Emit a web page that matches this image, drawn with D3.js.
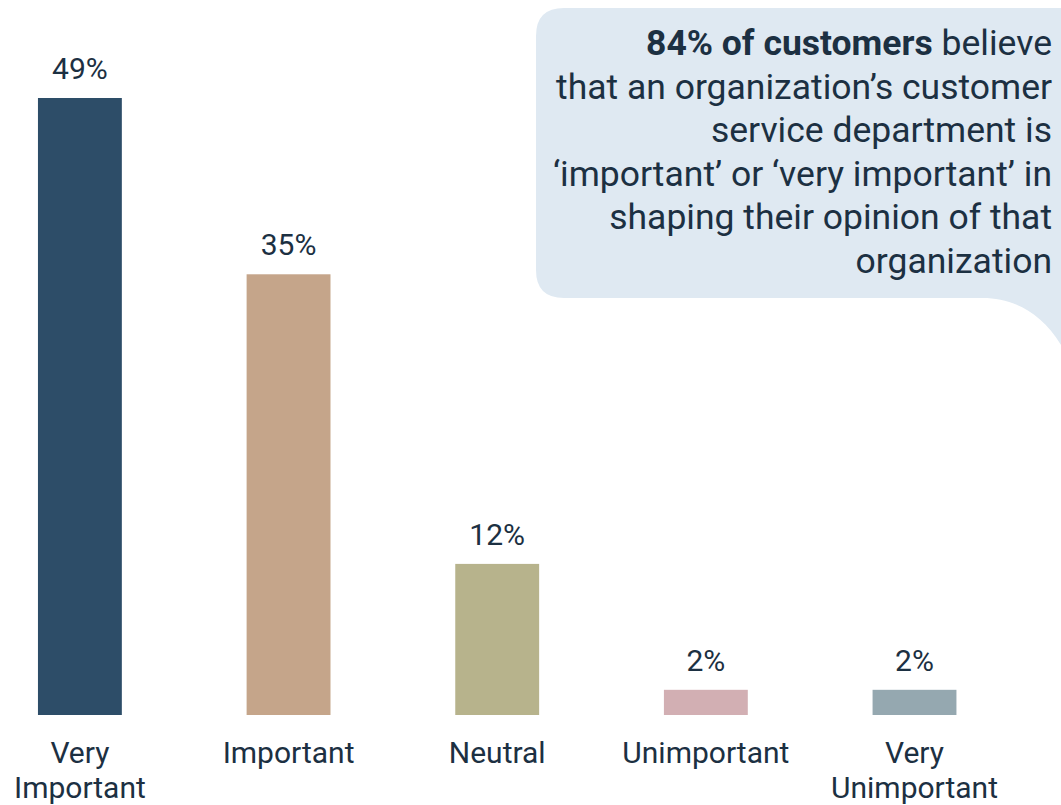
<!DOCTYPE html>
<html>
<head>
<meta charset="utf-8">
<script src="https://cdn.jsdelivr.net/npm/d3@7"></script>
<style>
  html, body { margin: 0; padding: 0; background: #fff; }
  svg { display: block; }
  text { font-family: Roboto, "Noto Sans", sans-serif; fill: #1C3042; }
</style>
</head>
<body>
<svg id="chart" width="1061" height="805"></svg>
<script>
const categories = ["Very Important", "Important", "Neutral", "Unimportant", "Very Unimportant"];
const values = [49, 35, 12, 2, 2];
const valueLabels = ["49%", "35%", "12%", "2%", "2%"];
const colors = ["#2D4D68", "#C5A58A", "#B7B38C", "#D2AFB3", "#95A8B0"];
const calloutBold = "84% of customers";
const calloutLines = [
  " believe",
  "that an organization\u2019s customer",
  "service department is",
  "\u2018important\u2019 or \u2018very important\u2019 in",
  "shaping their opinion of that",
  "organization"
];

const svg = d3.select("#chart");
const W = 1061, H = 805;

// Callout bubble
const bx = 536, by = 8, br = 28, bb = 298, tailStart = 983;
const bubble = d3.path();
bubble.moveTo(bx + br, by);
bubble.lineTo(W, by);
bubble.lineTo(W, 345);
bubble.bezierCurveTo(1040, 310, 1010, bb, tailStart, bb);
bubble.lineTo(bx + br, bb);
bubble.quadraticCurveTo(bx, bb, bx, bb - br);
bubble.lineTo(bx, by + br);
bubble.quadraticCurveTo(bx, by, bx + br, by);
bubble.closePath();
svg.append("path").attr("d", bubble.toString()).attr("fill", "#DFE9F2");

const fs = 35.5;
calloutLines.forEach((line, i) => {
  const t = svg.append("text")
    .attr("text-anchor", "end")
    .attr("font-size", fs)
    .attr("x", 1052).attr("y", 55 + i * 43.6);
  if (i === 0) {
    t.append("tspan").attr("font-weight", "bold").text(calloutBold);
    t.append("tspan").text(line);
  } else {
    t.text(line);
  }
});

// Bars
const x = d3.scaleBand()
  .domain(categories)
  .range([0.4, 994])
  .paddingInner(0.598)
  .paddingOuter(0.18);

const y = d3.scaleLinear()
  .domain([0, d3.max(values)])
  .range([715, 98]);

const data = categories.map((c, i) => ({ c, v: values[i], label: valueLabels[i], color: colors[i] }));

svg.selectAll("rect.bar").data(data).join("rect")
  .attr("class", "bar")
  .attr("x", d => x(d.c))
  .attr("y", d => y(d.v))
  .attr("width", x.bandwidth())
  .attr("height", d => y(0) - y(d.v))
  .attr("fill", d => d.color);

svg.selectAll("text.val").data(data).join("text")
  .attr("class", "val")
  .attr("x", d => x(d.c) + x.bandwidth() / 2)
  .attr("y", d => y(d.v) - 19)
  .attr("text-anchor", "middle")
  .attr("font-size", 30)
  .text(d => d.label);

// Category axis labels (wrapped)
const xAxis = d3.axisBottom(x).tickSize(0).tickPadding(0);
const gx = svg.append("g").attr("transform", `translate(0,${y(0)})`).call(xAxis);
gx.select(".domain").remove();
gx.selectAll(".tick text").each(function(d) {
  const t = d3.select(this);
  t.text(null).attr("y", 0).attr("dy", null)
    .attr("font-size", 30).attr("font-family", "Roboto, 'Noto Sans', sans-serif")
    .attr("fill", "#1C3042");
  const words = d.split(" ");
  words.forEach((w, i) => {
    t.append("tspan").attr("x", 0).attr("y", 48 + i * 35).text(w);
  });
});
</script>
</body>
</html>
